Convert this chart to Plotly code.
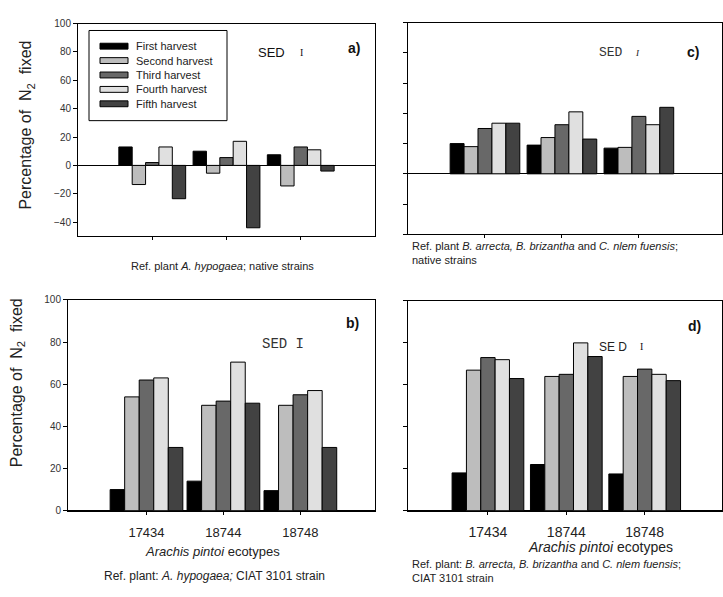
import plotly.graph_objects as go

# ---------------- data ----------------
ecotypes = ["17434", "18744", "18748"]
harvests = ["First harvest", "Second harvest", "Third harvest", "Fourth harvest", "Fifth harvest"]

a_first = [13, 10, 7.5]
a_second = [-13.5, -5.5, -14.5]
a_third = [2, 5.5, 13]
a_fourth = [13, 17, 11]
a_fifth = [-23.5, -44, -4]

c_first = [20, 19, 17]
c_second = [18, 24, 17.5]
c_third = [30, 32.5, 38]
c_fourth = [33.5, 41, 32.5]
c_fifth = [33.5, 23, 44]

b_first = [10, 14, 9.5]
b_second = [54, 50, 50]
b_third = [62, 52, 55]
b_fourth = [63, 70.5, 57]
b_fifth = [30, 51, 30]

d_first = [18, 22, 17.5]
d_second = [67, 64, 64]
d_third = [73, 65, 67.5]
d_fourth = [72, 80, 65]
d_fifth = [63, 73.5, 62]

y_ticks_a = [-40, -20, 0, 20, 40, 60, 80, 100]
y_ticks_c = [-40, -20, 0, 20, 40, 60, 80, 100]
y_ticks_bd = [0, 20, 40, 60, 80, 100]

colors = ["#000000", "#bdbdbd", "#686868", "#e0e0e0", "#424242"]

W, H = 723, 597
FONT = "Liberation Sans, Arial, sans-serif"
MONO = "Liberation Mono, Courier New, monospace"
SERIF = "Liberation Serif, Times New Roman, serif"


def px(p):
    return p / W


def py(p):
    return 1 - p / H


fig = go.Figure()

panels = [
    # name, xaxis, yaxis, series, x domain px, y domain px, x range, y range, y ticks,
    # show x labels, show y labels, group fraction, x label font size, x label standoff
    ("a", "x", "y", [a_first, a_second, a_third, a_fourth, a_fifth], (78, 375), (18, 235), [-1, 3], [-50, 100], y_ticks_a, False, True, 0.90, 13, 0),
    ("c", "x2", "y2", [c_first, c_second, c_third, c_fourth, c_fifth], (408, 722), (17, 233), [-1, 3.08], [-40, 100], y_ticks_c, False, False, 0.905, 13, 0),
    ("b", "x3", "y3", [b_first, b_second, b_third, b_fourth, b_fifth], (68, 375), (300, 515), [-1.02, 2.97], [0, 100], y_ticks_bd, True, True, 0.945, 13, 7),
    ("d", "x4", "y4", [d_first, d_second, d_third, d_fourth, d_fifth], (408, 721.5), (301, 515), [-1.02, 2.98], [0, 100], y_ticks_bd, True, False, 0.915, 14, 6),
]

for name, xa, ya, series, xd, yd, xr, yr, yt, showx, showy, g, xfs, xso in panels:
    w = g / len(series)
    for i, vals in enumerate(series):
        fig.add_trace(go.Bar(
            x=ecotypes, y=vals, name=harvests[i], xaxis=xa, yaxis=ya,
            width=w, offset=-g / 2 + i * w,
            marker=dict(color=colors[i], line=dict(color="#000000", width=1)),
            showlegend=False,
        ))
    xkey = "xaxis" + xa[1:]
    ykey = "yaxis" + ya[1:]
    fig.update_layout(**{
        xkey: dict(
            domain=[px(xd[0]), px(xd[1])], anchor=ya, type="category",
            range=xr, showline=True, linecolor="#000000", linewidth=1, mirror=True,
            ticks="outside", ticklen=3, tickcolor="#000000",
            showticklabels=showx, showgrid=False, zeroline=False,
            ticklabelstandoff=xso,
            tickfont=dict(family=FONT, size=xfs, color="#222222"),
        ),
        ykey: dict(
            domain=[py(yd[1]), py(yd[0])], anchor=xa, range=yr,
            tickvals=yt, showline=True, linecolor="#000000", linewidth=1, mirror=True,
            ticks="outside", ticklen=4, tickcolor="#000000",
            showticklabels=showy, showgrid=False,
            zeroline=True, zerolinecolor="#000000", zerolinewidth=1,
            tickfont=dict(family=FONT, size=10, color="#333333"),
        ),
    })

ann = []
shapes = []


def text(x, y, s, size, family=FONT, color="#111111", xanchor="center", align="center", angle=0):
    ann.append(dict(x=px(x), y=py(y), xref="paper", yref="paper", text=s, showarrow=False,
                    font=dict(family=family, size=size, color=color), xanchor=xanchor,
                    yanchor="middle", align=align, textangle=angle))


# y-axis titles
text(27, 122, "Percentage of  N<sub>2</sub>  fixed", 16, angle=-90, color="#222222")
text(17, 385, "Percentage of  N<sub>2</sub>  fixed", 16, angle=-90, color="#222222")

# panel labels
text(354, 43, "<b>a)</b>", 14)
text(693, 47, "<b>c)</b>", 14)
text(352, 323, "<b>b)</b>", 14)
text(694, 327, "<b>d)</b>", 14)

# SED indicators
text(271, 47, "SED", 13)
text(301, 47, "I", 10, family=SERIF)
text(611, 47, "SED", 13, family=MONO, color="#333333")
text(637, 48, "<i>I</i>", 9, family=SERIF)
text(283, 345, "SED I", 14, family=MONO, color="#333333")
text(613, 348, "SE D", 12, color="#222222")
text(641, 347, "I", 10, family=SERIF)

# captions and x titles
text(212, 557, "<i>Arachis pintoi</i> ecotypes", 13, color="#222222")
text(214, 582, "Ref. plant: <i>A. hypogaea;</i> CIAT 3101 strain", 12, color="#222222")
text(600, 552, "<i>Arachis pintoi</i> ecotypes", 14, color="#222222")
text(410, 577, "Ref. plant: <i>B. arrecta, B. brizantha</i> and <i>C. nlem fuensis</i>;<br>CIAT 3101 strain",
     11, xanchor="left", align="left", color="#222222")
text(222, 265, "Ref. plant <i>A. hypogaea</i>; native strains", 11, color="#222222")
text(410, 252, "Ref. plant <i>B. arrecta, B. brizantha</i> and <i>C. nlem fuensis</i>;<br>native strains",
     11, xanchor="left", align="left", color="#222222")

# legend (panel a)
shapes.append(dict(type="rect", xref="paper", yref="paper", x0=px(89), x1=px(227), y0=py(117), y1=py(25),
                   line=dict(color="#000000", width=1), fillcolor="rgba(0,0,0,0)"))
for i, nm in enumerate(harvests):
    ry = 41 + i * 14.7
    shapes.append(dict(type="rect", xref="paper", yref="paper", x0=px(100), x1=px(128),
                       y0=py(ry + 3), y1=py(ry - 3), line=dict(color="#000000", width=1),
                       fillcolor=colors[i]))
    text(134, ry, nm, 11, xanchor="left", color="#222222")

fig.update_layout(
    width=W, height=H, margin=dict(l=0, r=0, t=0, b=0),
    paper_bgcolor="#ffffff", plot_bgcolor="#ffffff",
    barmode="overlay", showlegend=False,
    annotations=ann, shapes=shapes,
    font=dict(family=FONT),
)

fig.write_html("out.html", config={"displayModeBar": False},
               post_script="document.body.style.margin='0';document.body.style.overflow='hidden';")
